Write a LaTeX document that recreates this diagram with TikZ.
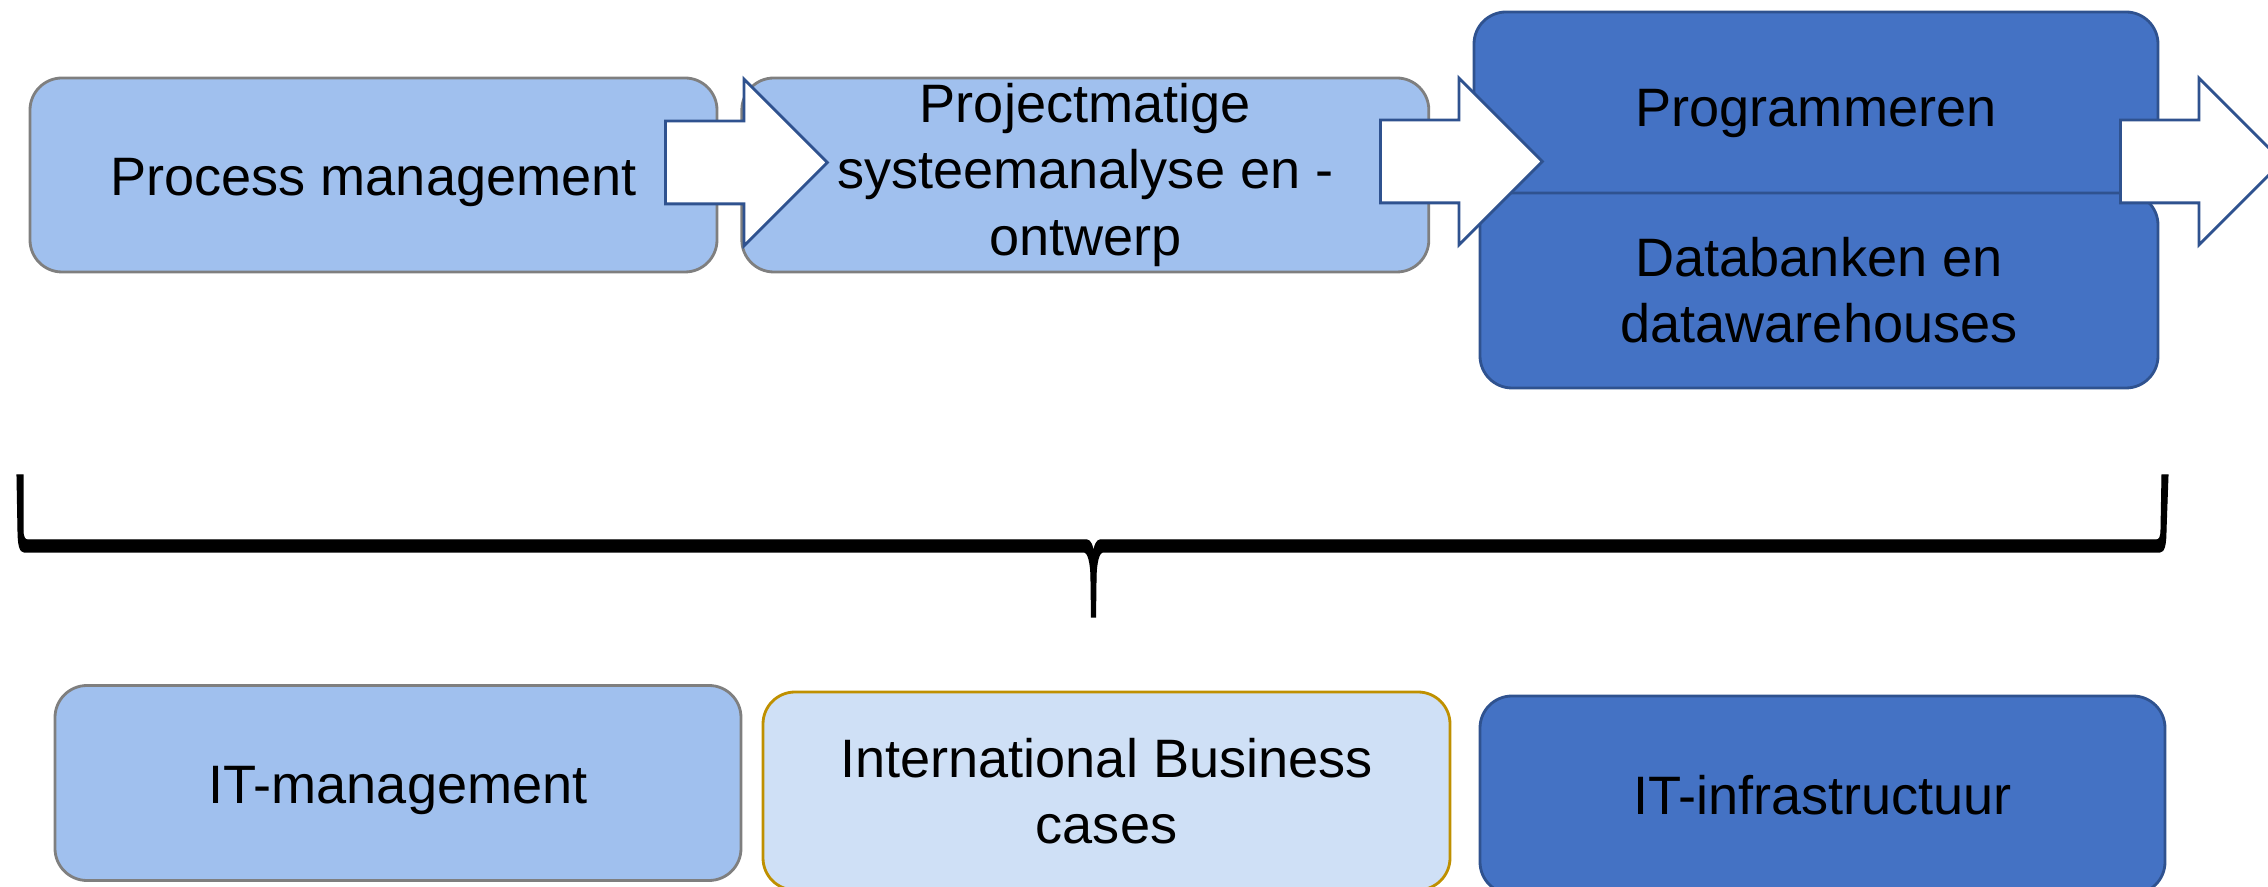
\documentclass[tikz,border=0pt]{standalone}
\usepackage{fontspec}
\setmainfont{Liberation Sans}
\usetikzlibrary{positioning, shapes.arrows}

\definecolor{lightblue}{HTML}{A0C0EE}
\definecolor{boxgray}{HTML}{7F7F7F}
\definecolor{darkblue}{HTML}{4472C4}
\definecolor{darkedge}{HTML}{2F528F}
\definecolor{paleblue}{HTML}{CFE0F6}
\definecolor{goldedge}{HTML}{BF9000}

\newcommand{\lowered}[1]{\raisebox{-2pt}[\height][\depth]{#1}}

\begin{document}
\begin{tikzpicture}[
    block/.style={rectangle, draw, rounded corners=0.32cm, line width=0.8pt, align=center,
                  font=\fontsize{15.4}{18.8}\selectfont, inner sep=3pt},
    light/.style={block, fill=lightblue, draw=boxgray},
    dark/.style={block, fill=darkblue, draw=darkedge},
    pale/.style={block, fill=paleblue, draw=goldedge},
    flow/.style={single arrow, draw=darkedge, fill=white, line width=0.8pt, anchor=tail,
                 minimum height=1.62cm, minimum width=1.64cm,
                 single arrow head extend=0.42cm, inner xsep=0pt, inner ysep=0.4cm},
    brace/.style={fill=black, draw=black, line width=0.3pt},
]
\useasboundingbox (0,0) rectangle (22.68,-8.87);
\clip (0,0) rectangle (22.68,-8.87);

% Top row
\node[light, minimum width=6.87cm, minimum height=1.94cm] (pm) at (3.735,-1.75) {\lowered{Process management}};
\node[light, minimum width=6.87cm, minimum height=1.94cm, inner ysep=0pt, right=0.22cm of pm] (psa)
    {Projectmatige\\systeemanalyse en -\\ontwerp};
\node[dark, minimum width=6.84cm, minimum height=1.88cm] (prog) at (18.16,-1.06) {\lowered{Programmeren}};
\node[dark, minimum width=6.78cm, minimum height=1.95cm] (db) at (18.19,-2.905)
    {Databanken en\\datawarehouses};

% Flow arrows
\coordinate (t1) at (6.64,-1.625);
\coordinate (t2) at (13.79,-1.615);
\coordinate (t3) at (21.19,-1.615);
\node[flow] (f1) at (t1) {};
\node[flow] (f2) at (t2) {};
\node[flow] (f3) at (t3) {};

% Brace
\fill[brace] (0.17,-4.75) -- (0.18,-5.30) .. controls (0.18,-5.45) and (0.20,-5.52) .. (0.24,-5.52)
    -- (10.84,-5.52) .. controls (10.88,-5.52) and (10.91,-5.62) .. (10.91,-5.80)
    -- (10.915,-6.17) -- (10.955,-6.17) -- (10.96,-5.80)
    .. controls (10.96,-5.62) and (10.99,-5.52) .. (11.03,-5.52)
    -- (21.60,-5.52) .. controls (21.64,-5.52) and (21.66,-5.45) .. (21.66,-5.30)
    -- (21.68,-4.75) -- (21.62,-4.75) -- (21.61,-5.30)
    .. controls (21.61,-5.38) and (21.59,-5.40) .. (21.56,-5.40)
    -- (11.00,-5.40) .. controls (10.97,-5.40) and (10.94,-5.45) .. (10.935,-5.55)
    .. controls (10.93,-5.45) and (10.90,-5.40) .. (10.87,-5.40)
    -- (0.28,-5.40) .. controls (0.25,-5.40) and (0.23,-5.38) .. (0.23,-5.30)
    -- (0.23,-4.75) -- cycle;

% Bottom row
\node[light, minimum width=6.86cm, minimum height=1.95cm] (itm) at (3.98,-7.83) {\lowered{IT-management}};
\node[pale, minimum width=6.87cm, minimum height=1.98cm] (ibc) at (11.065,-7.91)
    {International Business\\cases};
\node[dark, minimum width=6.85cm, minimum height=1.98cm] (iti) at (18.225,-7.95) {IT-infrastructuur};

\end{tikzpicture}
\end{document}
